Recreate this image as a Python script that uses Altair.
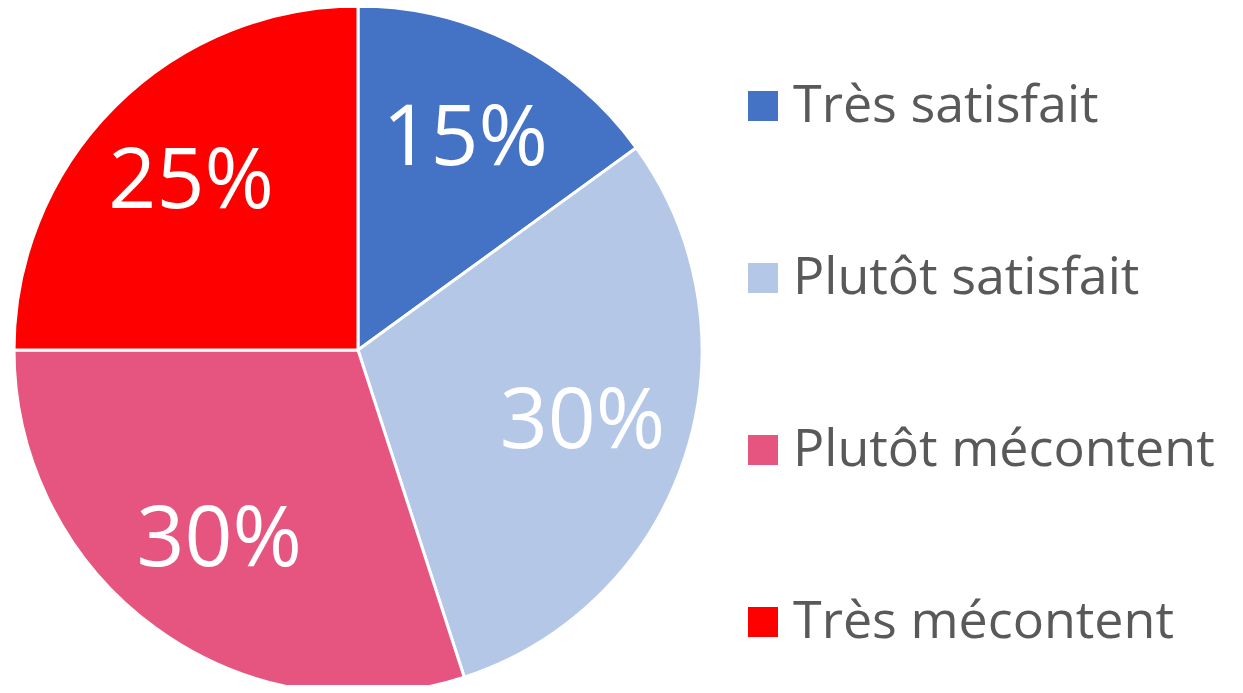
import altair as alt
import pandas as pd

categories = ["Très satisfait", "Plutôt satisfait", "Plutôt mécontent", "Très mécontent"]
values = [15, 30, 30, 25]
labels = ["15%", "30%", "30%", "25%"]
colors = ["#4472C4", "#B4C7E7", "#E6557F", "#FF0000"]

df = pd.DataFrame({"cat": categories, "value": values, "label": labels, "order": list(range(len(values)))})

font = "Open Sans"
cx, cy, R = 350, 342, 344

base = alt.Chart(df).encode(
    theta=alt.Theta("value:Q", stack=True),
    order=alt.Order("order:Q"),
    x=alt.value(cx),
    y=alt.value(cy),
)

arcs = base.mark_arc(radius=R, stroke="white", strokeWidth=3).encode(
    color=alt.Color(
        "cat:N",
        scale=alt.Scale(domain=categories, range=colors),
        sort=categories,
        legend=alt.Legend(
            title=None,
            orient="none",
            legendX=729,
            legendY=72,
            symbolType="square",
            symbolSize=900,
            symbolStrokeWidth=0,
            labelFont=font,
            labelFontSize=52,
            labelColor="#595959",
            labelOffset=4,
            rowPadding=120,
            labelLimit=600,
        ),
    )
)

text = base.mark_text(radius=236, font=font, fontSize=84, color="white").encode(
    text="label:N"
)

chart = (
    alt.layer(arcs, text)
    .properties(width=1227, height=677, padding=0, autosize="none")
    .configure_view(stroke=None)
)

chart.save("out.html", embed_options={"renderer": "svg", "actions": False})
